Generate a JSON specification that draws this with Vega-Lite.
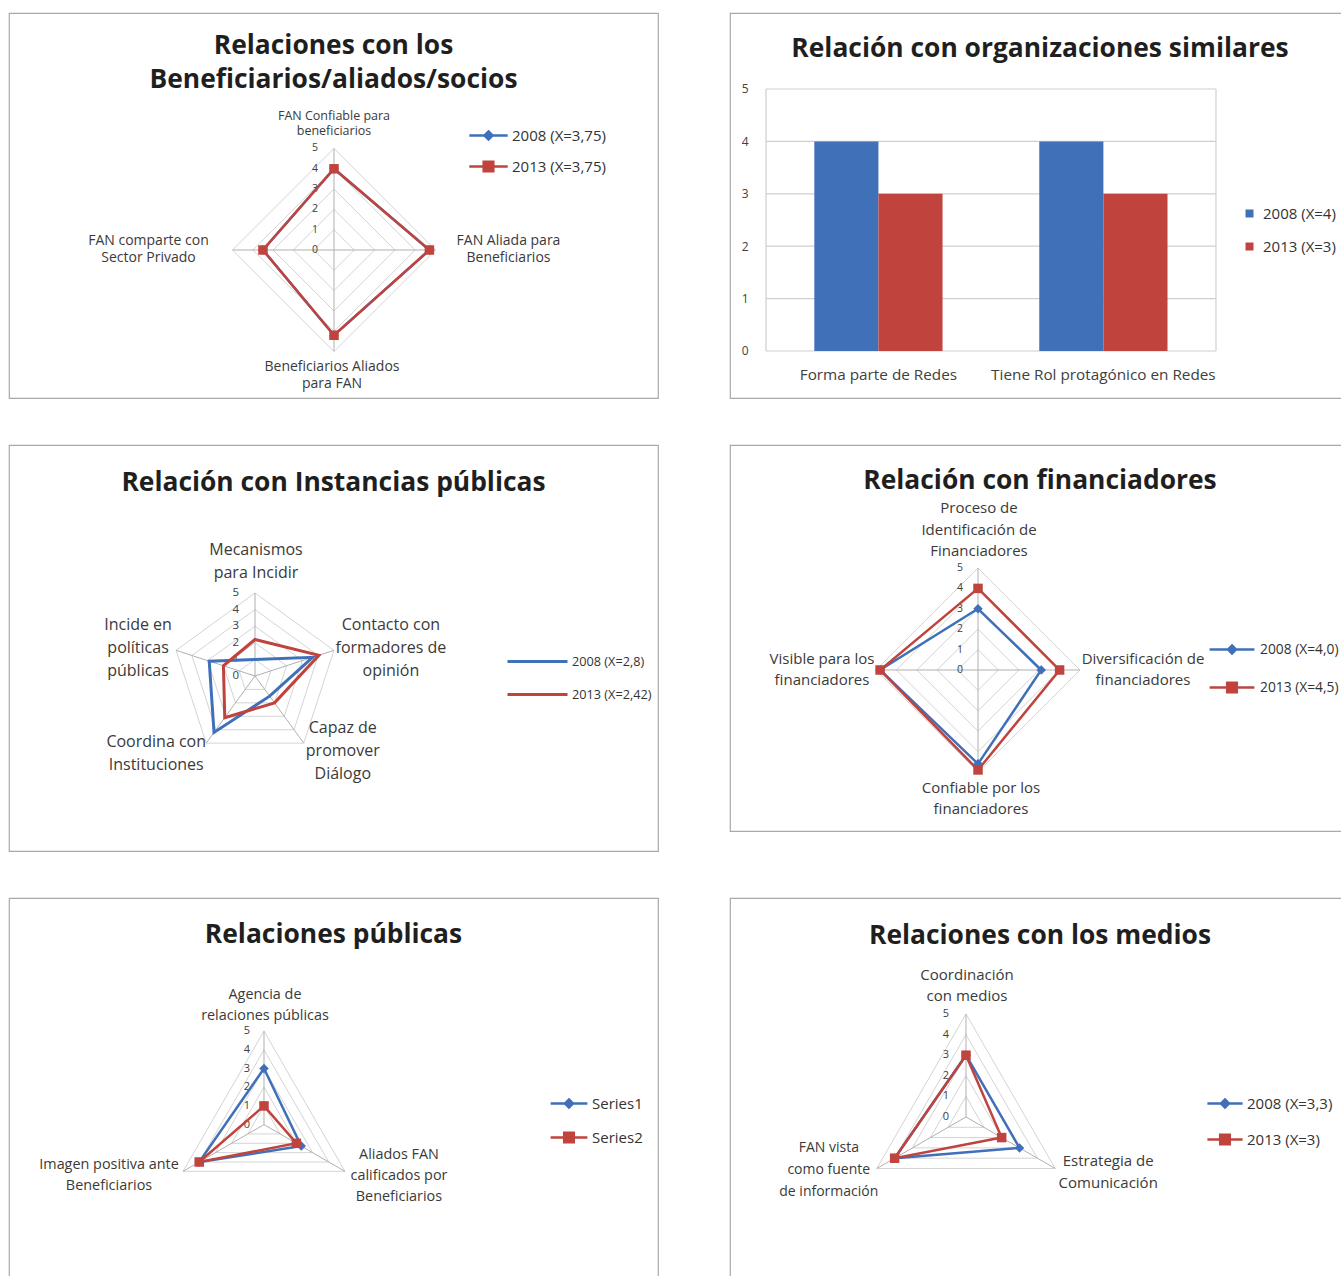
{
"$schema": "https://vega.github.io/schema/vega-lite/v6.json",
"background": "white",
"padding": {"left": 8, "top": 12, "right": 0, "bottom": 0},
"autosize": {"type": "pad"},
"config": {
  "font": "Open Sans",
  "view": {"stroke": "#a9a9a9", "strokeWidth": 1.2},
  "title": {"font": "Open Sans", "fontSize": 26.4, "fontWeight": "bold", "color": "#1f1f1f", "anchor": "middle", "frame": "group", "lineHeight": 34},
  "legend": {"padding": 0, "labelFont": "Open Sans", "labelColor": "#333333", "labelLimit": 300},
  "axis": {"labelFont": "Open Sans"}
},
"datasets": {
  "T": [{"t":0},{"t":1},{"t":2},{"t":3},{"t":4},{"t":5}],
  "G3": [{"k":0,"lv":[1,2,3,4,5]},{"k":1,"lv":[1,2,3,4,5]},{"k":2,"lv":[1,2,3,4,5]}],
  "G4": [{"k":0,"lv":[1,2,3,4,5]},{"k":1,"lv":[1,2,3,4,5]},{"k":2,"lv":[1,2,3,4,5]},{"k":3,"lv":[1,2,3,4,5]}],
  "G5": [{"k":0,"lv":[1,2,3,4,5]},{"k":1,"lv":[1,2,3,4,5]},{"k":2,"lv":[1,2,3,4,5]},{"k":3,"lv":[1,2,3,4,5]},{"k":4,"lv":[1,2,3,4,5]}],
  "L1": [{"k":0,"t":"FAN Confiable para\nbeneficiarios"},{"k":1,"t":"FAN Aliada para\nBeneficiarios"},{"k":2,"t":"Beneficiarios Aliados\npara FAN"},{"k":3,"t":"FAN comparte con\nSector Privado"}],
  "L3": [{"k":0,"t":"Mecanismos\npara Incidir"},{"k":1,"t":"Contacto con\nformadores de\nopinión"},{"k":2,"t":"Capaz de\npromover\nDiálogo"},{"k":3,"t":"Coordina con\nInstituciones"},{"k":4,"t":"Incide en\npolíticas\npúblicas"}],
  "L4": [{"k":0,"t":"Proceso de\nIdentificación de\nFinanciadores"},{"k":1,"t":"Diversificación de\nfinanciadores"},{"k":2,"t":"Confiable por los\nfinanciadores"},{"k":3,"t":"Visible para los\nfinanciadores"}],
  "L5": [{"k":0,"t":"Agencia de\nrelaciones públicas"},{"k":1,"t":"Aliados FAN\ncalificados por\nBeneficiarios"},{"k":2,"t":"Imagen positiva ante\nBeneficiarios"}],
  "L6": [{"k":0,"t":"Coordinación\ncon medios"},{"k":1,"t":"Estrategia de\nComunicación"},{"k":2,"t":"FAN vista\ncomo fuente\nde información"}],
  "D1": [{"s":"2008 (X=3,75)","k":0,"v":4},{"s":"2008 (X=3,75)","k":1,"v":4.7},{"s":"2008 (X=3,75)","k":2,"v":4.2},{"s":"2008 (X=3,75)","k":3,"v":3.5},
         {"s":"2013 (X=3,75)","k":0,"v":4},{"s":"2013 (X=3,75)","k":1,"v":4.7},{"s":"2013 (X=3,75)","k":2,"v":4.2},{"s":"2013 (X=3,75)","k":3,"v":3.5}],
  "D3": [{"s":"2008 (X=2,8)","k":0,"v":1.0},{"s":"2008 (X=2,8)","k":1,"v":3.65},{"s":"2008 (X=2,8)","k":2,"v":1.5},{"s":"2008 (X=2,8)","k":3,"v":4.2},{"s":"2008 (X=2,8)","k":4,"v":2.9},
         {"s":"2013 (X=2,42)","k":0,"v":2.2},{"s":"2013 (X=2,42)","k":1,"v":4.05},{"s":"2013 (X=2,42)","k":2,"v":2.0},{"s":"2013 (X=2,42)","k":3,"v":3.1},{"s":"2013 (X=2,42)","k":4,"v":2.0}],
  "D4": [{"s":"2008 (X=4,0)","k":0,"v":3},{"s":"2008 (X=4,0)","k":1,"v":3.1},{"s":"2008 (X=4,0)","k":2,"v":4.6},{"s":"2008 (X=4,0)","k":3,"v":4.8},
         {"s":"2013 (X=4,5)","k":0,"v":4},{"s":"2013 (X=4,5)","k":1,"v":4},{"s":"2013 (X=4,5)","k":2,"v":4.9},{"s":"2013 (X=4,5)","k":3,"v":4.8}],
  "D5": [{"s":"Series1","k":0,"v":3},{"s":"Series1","k":1,"v":2.3},{"s":"Series1","k":2,"v":4},
         {"s":"Series2","k":0,"v":1},{"s":"Series2","k":1,"v":2},{"s":"Series2","k":2,"v":4}],
  "D6": [{"s":"2008 (X=3,3)","k":0,"v":3},{"s":"2008 (X=3,3)","k":1,"v":3},{"s":"2008 (X=3,3)","k":2,"v":4},
         {"s":"2013 (X=3)","k":0,"v":3},{"s":"2013 (X=3)","k":1,"v":2},{"s":"2013 (X=3)","k":2,"v":4}],
  "B": [{"c":"Forma parte de Redes","s":"2008 (X=4)","v":4},{"c":"Forma parte de Redes","s":"2013 (X=3)","v":3},
        {"c":"Tiene Rol protagónico en Redes","s":"2008 (X=4)","v":4},{"c":"Tiene Rol protagónico en Redes","s":"2013 (X=3)","v":3}]
},
"spacing": 45,
"resolve": {"scale": {"color": "independent", "shape": "independent"}},
"vconcat": [
{
 "hconcat": [
 {
  "width": 649, "height": 385,
  "title": {"text": ["Relaciones con los", "Beneficiarios/aliados/socios"], "offset": -80},
  "encoding": {
    "x": {"field": "x", "type": "quantitative", "scale": {"domain": [-16.01, 15.961], "nice": false, "zero": false}, "axis": null},
    "y": {"field": "y", "type": "quantitative", "scale": {"domain": [-7.291, 11.675], "nice": false, "zero": false}, "axis": null}
  },
  "layer": [
   {"data": {"name": "G4"}, "transform": [{"flatten": ["lv"]}, {"calculate": "2*PI*datum.k/4", "as": "a"}, {"calculate": "datum.lv*sin(datum.a)", "as": "x"}, {"calculate": "datum.lv*cos(datum.a)", "as": "y"}],
    "mark": {"type": "line", "interpolate": "linear-closed", "color": "#d4d4d4", "strokeWidth": 1},
    "encoding": {"detail": {"field": "lv", "type": "nominal"}, "order": {"field": "k", "type": "quantitative"}}},
   {"data": {"name": "L1"}, "transform": [{"calculate": "2*PI*datum.k/4", "as": "a"}, {"calculate": "5*sin(datum.a)", "as": "x"}, {"calculate": "5*cos(datum.a)", "as": "y"}],
    "mark": {"type": "rule", "color": "#b0b0b0", "strokeWidth": 1},
    "encoding": {"x2": {"datum": 0}, "y2": {"datum": 0}}},
   {"data": {"name": "T"}, "transform": [{"calculate": "0*datum.t", "as": "x"}, {"calculate": "datum.t", "as": "y"}, {"calculate": "'' + datum.t", "as": "lab"}],
    "mark": {"type": "text", "align": "right", "baseline": "middle", "dx": -16, "fontSize": 10.5, "color": "#404040"},
    "encoding": {"text": {"field": "lab", "type": "nominal"}}},
   {"data": {"name": "D1"}, "transform": [{"calculate": "2*PI*datum.k/4", "as": "a"}, {"calculate": "datum.v*sin(datum.a)", "as": "x"}, {"calculate": "datum.v*cos(datum.a)", "as": "y"}],
    "mark": {"type": "line", "interpolate": "linear-closed", "strokeWidth": 2.5},
    "encoding": {"color": {"field": "s", "type": "nominal", "scale": {"range": ["#3f70b8", "#c0433d"]},
       "legend": {"title": null, "orient": "none", "legendX": 470, "legendY": 113, "symbolSize": 256, "labelOffset": 14, "rowPadding": 11, "labelFontSize": 15,
         "encode": {"symbols": {"update": {"shape": {"signal": "datum.index === 0 ? 'M-2.4,0H2.4M0,-0.5L0.5,0L0,0.5L-0.5,0Z' : 'M-2.4,0H2.4M-0.6,-0.6H0.6V0.6H-0.6Z'"}, "fill": {"signal": "datum.index === 0 ? '#3f70b8' : '#c0433d'"}, "stroke": {"signal": "datum.index === 0 ? '#3f70b8' : '#c0433d'"}, "strokeWidth": {"value": 2.5}, "opacity": {"value": 1}}}}}},
      "order": {"field": "k", "type": "quantitative"}}},
   {"data": {"name": "D1"}, "transform": [{"calculate": "2*PI*datum.k/4", "as": "a"}, {"calculate": "datum.v*sin(datum.a)", "as": "x"}, {"calculate": "datum.v*cos(datum.a)", "as": "y"}],
    "mark": {"type": "point", "filled": true, "opacity": 1, "size": 90},
    "encoding": {"color": {"field": "s", "type": "nominal", "legend": null}, "shape": {"field": "s", "type": "nominal", "scale": {"range": ["diamond", "square"]}, "legend": null}}},
   {"data": {"name": "L1"}, "transform": [{"filter": "datum.k==0"}, {"calculate": "2*PI*datum.k/4", "as": "a"}, {"calculate": "5*sin(datum.a)", "as": "x"}, {"calculate": "5*cos(datum.a)", "as": "y"}],
    "mark": {"type": "text", "align": "center", "baseline": "middle", "lineBreak": "\n", "fontSize": 12.5, "lineHeight": 15, "color": "#3a3a3a", "dx": 0, "dy": -32.5},
    "encoding": {"text": {"field": "t", "type": "nominal"}}},
   {"data": {"name": "L1"}, "transform": [{"filter": "datum.k==1"}, {"calculate": "2*PI*datum.k/4", "as": "a"}, {"calculate": "5*sin(datum.a)", "as": "x"}, {"calculate": "5*cos(datum.a)", "as": "y"}],
    "mark": {"type": "text", "align": "center", "baseline": "middle", "lineBreak": "\n", "fontSize": 14, "lineHeight": 17, "color": "#3a3a3a", "dx": 73, "dy": -8.5},
    "encoding": {"text": {"field": "t", "type": "nominal"}}},
   {"data": {"name": "L1"}, "transform": [{"filter": "datum.k==2"}, {"calculate": "2*PI*datum.k/4", "as": "a"}, {"calculate": "5*sin(datum.a)", "as": "x"}, {"calculate": "5*cos(datum.a)", "as": "y"}],
    "mark": {"type": "text", "align": "center", "baseline": "middle", "lineBreak": "\n", "fontSize": 14, "lineHeight": 17, "color": "#3a3a3a", "dx": -2, "dy": 15.5},
    "encoding": {"text": {"field": "t", "type": "nominal"}}},
   {"data": {"name": "L1"}, "transform": [{"filter": "datum.k==3"}, {"calculate": "2*PI*datum.k/4", "as": "a"}, {"calculate": "5*sin(datum.a)", "as": "x"}, {"calculate": "5*cos(datum.a)", "as": "y"}],
    "mark": {"type": "text", "align": "center", "baseline": "middle", "lineBreak": "\n", "fontSize": 14, "lineHeight": 17, "color": "#3a3a3a", "dx": -84, "dy": -8.5},
    "encoding": {"text": {"field": "t", "type": "nominal"}}}
  ]
 },
 {
  "width": 620, "height": 385,
  "title": {"text": "Relación con organizaciones similares", "offset": -49},
  "layer": [
   {"data": {"name": "T"}, "mark": {"type": "rule", "color": "#cfcfcf", "strokeWidth": 1.2},
    "encoding": {
      "y": {"field": "t", "type": "quantitative", "scale": {"domain": [-0.897, 6.45], "nice": false, "zero": false}},
      "x": {"datum": 0, "type": "quantitative", "scale": {"domain": [-0.08, 1.2978], "nice": false, "zero": false}, "axis": null},
      "x2": {"datum": 1}}},
   {"data": {"values": [{"e": 0}, {"e": 1}]}, "mark": {"type": "rule", "color": "#cfcfcf", "strokeWidth": 1.2},
    "encoding": {
      "x": {"field": "e", "type": "quantitative", "scale": {"domain": [-0.08, 1.2978], "nice": false, "zero": false}, "axis": null},
      "y": {"datum": 0, "type": "quantitative"}, "y2": {"datum": 5}}},
   {"data": {"name": "B"}, "mark": {"type": "bar"},
    "encoding": {
      "x": {"field": "c", "type": "nominal", "sort": null, "scale": {"paddingInner": 0.43, "paddingOuter": 0.593, "align": 0.316},
            "axis": {"title": null, "labelAngle": 0, "domain": false, "ticks": false, "offset": -33, "labelPadding": 2, "labelFontSize": 15.3, "labelColor": "#404040", "labelLimit": 300}},
      "xOffset": {"field": "s", "type": "nominal"},
      "y": {"field": "v", "type": "quantitative",
            "axis": {"title": null, "values": [0,1,2,3,4,5], "grid": false, "domain": false, "ticks": false, "offset": -18, "labelPadding": 0, "labelFontSize": 12, "labelColor": "#404040", "labelExpr": "'' + datum.value"}},
      "color": {"field": "s", "type": "nominal", "scale": {"range": ["#3f70b8", "#c0433d"]},
        "legend": {"title": null, "orient": "none", "legendX": 512, "legendY": 193, "symbolType": "square", "symbolSize": 64, "labelOffset": 6, "rowPadding": 17, "labelFontSize": 15}}}}
  ],
  "resolve": {"scale": {"x": "independent"}}
 }
 ],
 "spacing": 72,
 "bounds": "flush",
 "resolve": {"scale": {"color": "independent", "shape": "independent"}}
},
{
 "hconcat": [
 {
  "width": 649, "height": 406,
  "title": {"text": "Relación con Instancias públicas", "offset": -51},
  "encoding": {
    "x": {"field": "x", "type": "quantitative", "scale": {"domain": [-14.819, 24.277], "nice": false, "zero": false}, "axis": null},
    "y": {"field": "y", "type": "quantitative", "scale": {"domain": [-10.542, 13.916], "nice": false, "zero": false}, "axis": null}
  },
  "layer": [
   {"data": {"name": "G5"}, "transform": [{"flatten": ["lv"]}, {"calculate": "2*PI*datum.k/5", "as": "a"}, {"calculate": "datum.lv*sin(datum.a)", "as": "x"}, {"calculate": "datum.lv*cos(datum.a)", "as": "y"}],
    "mark": {"type": "line", "interpolate": "linear-closed", "color": "#d4d4d4", "strokeWidth": 1},
    "encoding": {"detail": {"field": "lv", "type": "nominal"}, "order": {"field": "k", "type": "quantitative"}}},
   {"data": {"name": "L3"}, "transform": [{"calculate": "2*PI*datum.k/5", "as": "a"}, {"calculate": "5*sin(datum.a)", "as": "x"}, {"calculate": "5*cos(datum.a)", "as": "y"}],
    "mark": {"type": "rule", "color": "#b0b0b0", "strokeWidth": 1},
    "encoding": {"x2": {"datum": 0}, "y2": {"datum": 0}}},
   {"data": {"name": "T"}, "transform": [{"calculate": "0*datum.t", "as": "x"}, {"calculate": "datum.t", "as": "y"}, {"calculate": "'' + datum.t", "as": "lab"}],
    "mark": {"type": "text", "align": "right", "baseline": "middle", "dx": -16, "fontSize": 11.5, "color": "#404040"},
    "encoding": {"text": {"field": "lab", "type": "nominal"}}},
   {"data": {"name": "D3"}, "transform": [{"calculate": "2*PI*datum.k/5", "as": "a"}, {"calculate": "datum.v*sin(datum.a)", "as": "x"}, {"calculate": "datum.v*cos(datum.a)", "as": "y"}],
    "mark": {"type": "line", "interpolate": "linear-closed", "strokeWidth": 3},
    "encoding": {"color": {"field": "s", "type": "nominal", "scale": {"range": ["#3f70b8", "#c0433d"]},
       "legend": {"title": null, "orient": "none", "legendX": 519, "legendY": 207, "symbolSize": 256, "labelOffset": 25, "rowPadding": 16, "labelFontSize": 12.7,
         "encode": {"symbols": {"update": {"shape": {"value": "M-3.75,0H3.75"}, "fill": {"value": "transparent"}, "stroke": {"signal": "datum.index === 0 ? '#3f70b8' : '#c0433d'"}, "strokeWidth": {"value": 3}, "opacity": {"value": 1}}}}}},
      "order": {"field": "k", "type": "quantitative"}}},
   {"data": {"name": "L3"}, "transform": [{"filter": "datum.k==0"}, {"calculate": "2*PI*datum.k/5", "as": "a"}, {"calculate": "5*sin(datum.a)", "as": "x"}, {"calculate": "5*cos(datum.a)", "as": "y"}],
    "mark": {"type": "text", "align": "center", "baseline": "middle", "lineBreak": "\n", "fontSize": 16, "lineHeight": 23, "color": "#3a3a3a", "dx": 1, "dy": -43.5},
    "encoding": {"text": {"field": "t", "type": "nominal"}}},
   {"data": {"name": "L3"}, "transform": [{"filter": "datum.k==1"}, {"calculate": "2*PI*datum.k/5", "as": "a"}, {"calculate": "5*sin(datum.a)", "as": "x"}, {"calculate": "5*cos(datum.a)", "as": "y"}],
    "mark": {"type": "text", "align": "center", "baseline": "middle", "lineBreak": "\n", "fontSize": 16, "lineHeight": 23, "color": "#3a3a3a", "dx": 57, "dy": -25},
    "encoding": {"text": {"field": "t", "type": "nominal"}}},
   {"data": {"name": "L3"}, "transform": [{"filter": "datum.k==2"}, {"calculate": "2*PI*datum.k/5", "as": "a"}, {"calculate": "5*sin(datum.a)", "as": "x"}, {"calculate": "5*cos(datum.a)", "as": "y"}],
    "mark": {"type": "text", "align": "center", "baseline": "middle", "lineBreak": "\n", "fontSize": 16, "lineHeight": 23, "color": "#3a3a3a", "dx": 39, "dy": -15},
    "encoding": {"text": {"field": "t", "type": "nominal"}}},
   {"data": {"name": "L3"}, "transform": [{"filter": "datum.k==3"}, {"calculate": "2*PI*datum.k/5", "as": "a"}, {"calculate": "5*sin(datum.a)", "as": "x"}, {"calculate": "5*cos(datum.a)", "as": "y"}],
    "mark": {"type": "text", "align": "center", "baseline": "middle", "lineBreak": "\n", "fontSize": 16, "lineHeight": 23, "color": "#3a3a3a", "dx": -50, "dy": -1.5},
    "encoding": {"text": {"field": "t", "type": "nominal"}}},
   {"data": {"name": "L3"}, "transform": [{"filter": "datum.k==4"}, {"calculate": "2*PI*datum.k/5", "as": "a"}, {"calculate": "5*sin(datum.a)", "as": "x"}, {"calculate": "5*cos(datum.a)", "as": "y"}],
    "mark": {"type": "text", "align": "center", "baseline": "middle", "lineBreak": "\n", "fontSize": 16, "lineHeight": 23, "color": "#3a3a3a", "dx": -38, "dy": -25},
    "encoding": {"text": {"field": "t", "type": "nominal"}}}
  ]
 },
 {
  "width": 620, "height": 386,
  "title": {"text": "Relación con financiadores", "offset": -49},
  "encoding": {
    "x": {"field": "x", "type": "quantitative", "scale": {"domain": [-12.157, 18.235], "nice": false, "zero": false}, "axis": null},
    "y": {"field": "y", "type": "quantitative", "scale": {"domain": [-7.892, 11.029], "nice": false, "zero": false}, "axis": null}
  },
  "layer": [
   {"data": {"name": "G4"}, "transform": [{"flatten": ["lv"]}, {"calculate": "2*PI*datum.k/4", "as": "a"}, {"calculate": "datum.lv*sin(datum.a)", "as": "x"}, {"calculate": "datum.lv*cos(datum.a)", "as": "y"}],
    "mark": {"type": "line", "interpolate": "linear-closed", "color": "#d4d4d4", "strokeWidth": 1},
    "encoding": {"detail": {"field": "lv", "type": "nominal"}, "order": {"field": "k", "type": "quantitative"}}},
   {"data": {"name": "L4"}, "transform": [{"calculate": "2*PI*datum.k/4", "as": "a"}, {"calculate": "5*sin(datum.a)", "as": "x"}, {"calculate": "5*cos(datum.a)", "as": "y"}],
    "mark": {"type": "rule", "color": "#b0b0b0", "strokeWidth": 1},
    "encoding": {"x2": {"datum": 0}, "y2": {"datum": 0}}},
   {"data": {"name": "T"}, "transform": [{"calculate": "0*datum.t", "as": "x"}, {"calculate": "datum.t", "as": "y"}, {"calculate": "'' + datum.t", "as": "lab"}],
    "mark": {"type": "text", "align": "right", "baseline": "middle", "dx": -15, "fontSize": 10.5, "color": "#404040"},
    "encoding": {"text": {"field": "lab", "type": "nominal"}}},
   {"data": {"name": "D4"}, "transform": [{"calculate": "2*PI*datum.k/4", "as": "a"}, {"calculate": "datum.v*sin(datum.a)", "as": "x"}, {"calculate": "datum.v*cos(datum.a)", "as": "y"}],
    "mark": {"type": "line", "interpolate": "linear-closed", "strokeWidth": 2.5},
    "encoding": {"color": {"field": "s", "type": "nominal", "scale": {"range": ["#3f70b8", "#c0433d"]},
       "legend": {"title": null, "orient": "none", "legendX": 492.5, "legendY": 195, "symbolSize": 256, "labelOffset": 18.5, "rowPadding": 18, "labelFontSize": 13.8,
         "encode": {"symbols": {"update": {"shape": {"signal": "datum.index === 0 ? 'M-2.8,0H2.8M0,-0.5L0.5,0L0,0.5L-0.5,0Z' : 'M-2.8,0H2.8M-0.6,-0.6H0.6V0.6H-0.6Z'"}, "fill": {"signal": "datum.index === 0 ? '#3f70b8' : '#c0433d'"}, "stroke": {"signal": "datum.index === 0 ? '#3f70b8' : '#c0433d'"}, "strokeWidth": {"value": 2.5}, "opacity": {"value": 1}}}}}},
      "order": {"field": "k", "type": "quantitative"}}},
   {"data": {"name": "D4"}, "transform": [{"calculate": "2*PI*datum.k/4", "as": "a"}, {"calculate": "datum.v*sin(datum.a)", "as": "x"}, {"calculate": "datum.v*cos(datum.a)", "as": "y"}],
    "mark": {"type": "point", "filled": true, "opacity": 1, "size": 90},
    "encoding": {"color": {"field": "s", "type": "nominal", "legend": null}, "shape": {"field": "s", "type": "nominal", "scale": {"range": ["diamond", "square"]}, "legend": null}}},
   {"data": {"name": "L4"}, "transform": [{"filter": "datum.k==0"}, {"calculate": "2*PI*datum.k/4", "as": "a"}, {"calculate": "5*sin(datum.a)", "as": "x"}, {"calculate": "5*cos(datum.a)", "as": "y"}],
    "mark": {"type": "text", "align": "center", "baseline": "middle", "lineBreak": "\n", "fontSize": 15, "lineHeight": 21.5, "color": "#3a3a3a", "dx": 1, "dy": -59.5},
    "encoding": {"text": {"field": "t", "type": "nominal"}}},
   {"data": {"name": "L4"}, "transform": [{"filter": "datum.k==1"}, {"calculate": "2*PI*datum.k/4", "as": "a"}, {"calculate": "5*sin(datum.a)", "as": "x"}, {"calculate": "5*cos(datum.a)", "as": "y"}],
    "mark": {"type": "text", "align": "center", "baseline": "middle", "lineBreak": "\n", "fontSize": 15, "lineHeight": 21, "color": "#3a3a3a", "dx": 63, "dy": -10.5},
    "encoding": {"text": {"field": "t", "type": "nominal"}}},
   {"data": {"name": "L4"}, "transform": [{"filter": "datum.k==2"}, {"calculate": "2*PI*datum.k/4", "as": "a"}, {"calculate": "5*sin(datum.a)", "as": "x"}, {"calculate": "5*cos(datum.a)", "as": "y"}],
    "mark": {"type": "text", "align": "center", "baseline": "middle", "lineBreak": "\n", "fontSize": 15, "lineHeight": 21, "color": "#3a3a3a", "dx": 3, "dy": 15.5},
    "encoding": {"text": {"field": "t", "type": "nominal"}}},
   {"data": {"name": "L4"}, "transform": [{"filter": "datum.k==3"}, {"calculate": "2*PI*datum.k/4", "as": "a"}, {"calculate": "5*sin(datum.a)", "as": "x"}, {"calculate": "5*cos(datum.a)", "as": "y"}],
    "mark": {"type": "text", "align": "center", "baseline": "middle", "lineBreak": "\n", "fontSize": 15, "lineHeight": 21, "color": "#3a3a3a", "dx": -54, "dy": -10.5},
    "encoding": {"text": {"field": "t", "type": "nominal"}}}
  ]
 }
 ],
 "spacing": 72,
 "bounds": "flush",
 "resolve": {"scale": {"color": "independent", "shape": "independent"}}
},
{
 "hconcat": [
 {
  "width": 649, "height": 380,
  "title": {"text": "Relaciones públicas", "offset": -50},
  "encoding": {
    "x": {"field": "x", "type": "quantitative", "scale": {"domain": [-13.636, 21.07], "nice": false, "zero": false}, "axis": null},
    "y": {"field": "y", "type": "quantitative", "scale": {"domain": [-8.203, 12.118], "nice": false, "zero": false}, "axis": null}
  },
  "layer": [
   {"data": {"name": "G3"}, "transform": [{"flatten": ["lv"]}, {"calculate": "2*PI*datum.k/3", "as": "a"}, {"calculate": "datum.lv*sin(datum.a)", "as": "x"}, {"calculate": "datum.lv*cos(datum.a)", "as": "y"}],
    "mark": {"type": "line", "interpolate": "linear-closed", "color": "#d4d4d4", "strokeWidth": 1},
    "encoding": {"detail": {"field": "lv", "type": "nominal"}, "order": {"field": "k", "type": "quantitative"}}},
   {"data": {"name": "L5"}, "transform": [{"calculate": "2*PI*datum.k/3", "as": "a"}, {"calculate": "5*sin(datum.a)", "as": "x"}, {"calculate": "5*cos(datum.a)", "as": "y"}],
    "mark": {"type": "rule", "color": "#b0b0b0", "strokeWidth": 1},
    "encoding": {"x2": {"datum": 0}, "y2": {"datum": 0}}},
   {"data": {"name": "T"}, "transform": [{"calculate": "0*datum.t", "as": "x"}, {"calculate": "datum.t", "as": "y"}, {"calculate": "'' + datum.t", "as": "lab"}],
    "mark": {"type": "text", "align": "right", "baseline": "middle", "dx": -14, "fontSize": 11, "color": "#404040"},
    "encoding": {"text": {"field": "lab", "type": "nominal"}}},
   {"data": {"name": "D5"}, "transform": [{"calculate": "2*PI*datum.k/3", "as": "a"}, {"calculate": "datum.v*sin(datum.a)", "as": "x"}, {"calculate": "datum.v*cos(datum.a)", "as": "y"}],
    "mark": {"type": "line", "interpolate": "linear-closed", "strokeWidth": 2.5},
    "encoding": {"color": {"field": "s", "type": "nominal", "scale": {"range": ["#3f70b8", "#c0433d"]},
       "legend": {"title": null, "orient": "none", "legendX": 550.5, "legendY": 196, "symbolSize": 256, "labelOffset": 13.5, "rowPadding": 14, "labelFontSize": 15,
         "encode": {"symbols": {"update": {"shape": {"signal": "datum.index === 0 ? 'M-2.3,0H2.3M0,-0.5L0.5,0L0,0.5L-0.5,0Z' : 'M-2.3,0H2.3M-0.6,-0.6H0.6V0.6H-0.6Z'"}, "fill": {"signal": "datum.index === 0 ? '#3f70b8' : '#c0433d'"}, "stroke": {"signal": "datum.index === 0 ? '#3f70b8' : '#c0433d'"}, "strokeWidth": {"value": 2.5}, "opacity": {"value": 1}}}}}},
      "order": {"field": "k", "type": "quantitative"}}},
   {"data": {"name": "D5"}, "transform": [{"calculate": "2*PI*datum.k/3", "as": "a"}, {"calculate": "datum.v*sin(datum.a)", "as": "x"}, {"calculate": "datum.v*cos(datum.a)", "as": "y"}],
    "mark": {"type": "point", "filled": true, "opacity": 1, "size": 90},
    "encoding": {"color": {"field": "s", "type": "nominal", "legend": null}, "shape": {"field": "s", "type": "nominal", "scale": {"range": ["diamond", "square"]}, "legend": null}}},
   {"data": {"name": "L5"}, "transform": [{"filter": "datum.k==0"}, {"calculate": "2*PI*datum.k/3", "as": "a"}, {"calculate": "5*sin(datum.a)", "as": "x"}, {"calculate": "5*cos(datum.a)", "as": "y"}],
    "mark": {"type": "text", "align": "center", "baseline": "middle", "lineBreak": "\n", "fontSize": 14.4, "lineHeight": 21, "color": "#3a3a3a", "dx": 1, "dy": -36.5},
    "encoding": {"text": {"field": "t", "type": "nominal"}}},
   {"data": {"name": "L5"}, "transform": [{"filter": "datum.k==1"}, {"calculate": "2*PI*datum.k/3", "as": "a"}, {"calculate": "5*sin(datum.a)", "as": "x"}, {"calculate": "5*cos(datum.a)", "as": "y"}],
    "mark": {"type": "text", "align": "center", "baseline": "middle", "lineBreak": "\n", "fontSize": 14.4, "lineHeight": 21, "color": "#3a3a3a", "dx": 54, "dy": -16},
    "encoding": {"text": {"field": "t", "type": "nominal"}}},
   {"data": {"name": "L5"}, "transform": [{"filter": "datum.k==2"}, {"calculate": "2*PI*datum.k/3", "as": "a"}, {"calculate": "5*sin(datum.a)", "as": "x"}, {"calculate": "5*cos(datum.a)", "as": "y"}],
    "mark": {"type": "text", "align": "center", "baseline": "middle", "lineBreak": "\n", "fontSize": 14.4, "lineHeight": 21, "color": "#3a3a3a", "dx": -74, "dy": -6.5},
    "encoding": {"text": {"field": "t", "type": "nominal"}}}
  ]
 },
 {
  "width": 620, "height": 380,
  "title": {"text": "Relaciones con los medios", "offset": -51},
  "encoding": {
    "x": {"field": "x", "type": "quantitative", "scale": {"domain": [-11.456, 18.641], "nice": false, "zero": false}, "axis": null},
    "y": {"field": "y", "type": "quantitative", "scale": {"domain": [-7.816, 10.631], "nice": false, "zero": false}, "axis": null}
  },
  "layer": [
   {"data": {"name": "G3"}, "transform": [{"flatten": ["lv"]}, {"calculate": "2*PI*datum.k/3", "as": "a"}, {"calculate": "datum.lv*sin(datum.a)", "as": "x"}, {"calculate": "datum.lv*cos(datum.a)", "as": "y"}],
    "mark": {"type": "line", "interpolate": "linear-closed", "color": "#d4d4d4", "strokeWidth": 1},
    "encoding": {"detail": {"field": "lv", "type": "nominal"}, "order": {"field": "k", "type": "quantitative"}}},
   {"data": {"name": "L6"}, "transform": [{"calculate": "2*PI*datum.k/3", "as": "a"}, {"calculate": "5*sin(datum.a)", "as": "x"}, {"calculate": "5*cos(datum.a)", "as": "y"}],
    "mark": {"type": "rule", "color": "#b0b0b0", "strokeWidth": 1},
    "encoding": {"x2": {"datum": 0}, "y2": {"datum": 0}}},
   {"data": {"name": "T"}, "transform": [{"calculate": "0*datum.t", "as": "x"}, {"calculate": "datum.t", "as": "y"}, {"calculate": "'' + datum.t", "as": "lab"}],
    "mark": {"type": "text", "align": "right", "baseline": "middle", "dx": -17, "fontSize": 11, "color": "#404040"},
    "encoding": {"text": {"field": "lab", "type": "nominal"}}},
   {"data": {"name": "D6"}, "transform": [{"calculate": "2*PI*datum.k/3", "as": "a"}, {"calculate": "datum.v*sin(datum.a)", "as": "x"}, {"calculate": "datum.v*cos(datum.a)", "as": "y"}],
    "mark": {"type": "line", "interpolate": "linear-closed", "strokeWidth": 2.5},
    "encoding": {"color": {"field": "s", "type": "nominal", "scale": {"range": ["#3f70b8", "#c0433d"]},
       "legend": {"title": null, "orient": "none", "legendX": 485.5, "legendY": 196, "symbolSize": 256, "labelOffset": 12.5, "rowPadding": 16, "labelFontSize": 15,
         "encode": {"symbols": {"update": {"shape": {"signal": "datum.index === 0 ? 'M-2.2,0H2.2M0,-0.5L0.5,0L0,0.5L-0.5,0Z' : 'M-2.2,0H2.2M-0.6,-0.6H0.6V0.6H-0.6Z'"}, "fill": {"signal": "datum.index === 0 ? '#3f70b8' : '#c0433d'"}, "stroke": {"signal": "datum.index === 0 ? '#3f70b8' : '#c0433d'"}, "strokeWidth": {"value": 2.5}, "opacity": {"value": 1}}}}}},
      "order": {"field": "k", "type": "quantitative"}}},
   {"data": {"name": "D6"}, "transform": [{"calculate": "2*PI*datum.k/3", "as": "a"}, {"calculate": "datum.v*sin(datum.a)", "as": "x"}, {"calculate": "datum.v*cos(datum.a)", "as": "y"}],
    "mark": {"type": "point", "filled": true, "opacity": 1, "size": 90},
    "encoding": {"color": {"field": "s", "type": "nominal", "legend": null}, "shape": {"field": "s", "type": "nominal", "scale": {"range": ["diamond", "square"]}, "legend": null}}},
   {"data": {"name": "L6"}, "transform": [{"filter": "datum.k==0"}, {"calculate": "2*PI*datum.k/3", "as": "a"}, {"calculate": "5*sin(datum.a)", "as": "x"}, {"calculate": "5*cos(datum.a)", "as": "y"}],
    "mark": {"type": "text", "align": "center", "baseline": "middle", "lineBreak": "\n", "fontSize": 15, "lineHeight": 21, "color": "#3a3a3a", "dx": 1, "dy": -38.5},
    "encoding": {"text": {"field": "t", "type": "nominal"}}},
   {"data": {"name": "L6"}, "transform": [{"filter": "datum.k==1"}, {"calculate": "2*PI*datum.k/3", "as": "a"}, {"calculate": "5*sin(datum.a)", "as": "x"}, {"calculate": "5*cos(datum.a)", "as": "y"}],
    "mark": {"type": "text", "align": "center", "baseline": "middle", "lineBreak": "\n", "fontSize": 15, "lineHeight": 22, "color": "#3a3a3a", "dx": 53, "dy": -7},
    "encoding": {"text": {"field": "t", "type": "nominal"}}},
   {"data": {"name": "L6"}, "transform": [{"filter": "datum.k==2"}, {"calculate": "2*PI*datum.k/3", "as": "a"}, {"calculate": "5*sin(datum.a)", "as": "x"}, {"calculate": "5*cos(datum.a)", "as": "y"}],
    "mark": {"type": "text", "align": "center", "baseline": "middle", "lineBreak": "\n", "fontSize": 14, "lineHeight": 22, "color": "#3a3a3a", "dx": -48, "dy": -20},
    "encoding": {"text": {"field": "t", "type": "nominal"}}}
  ]
 }
 ],
 "spacing": 72,
 "bounds": "flush",
 "resolve": {"scale": {"color": "independent", "shape": "independent"}}
}
]
}
